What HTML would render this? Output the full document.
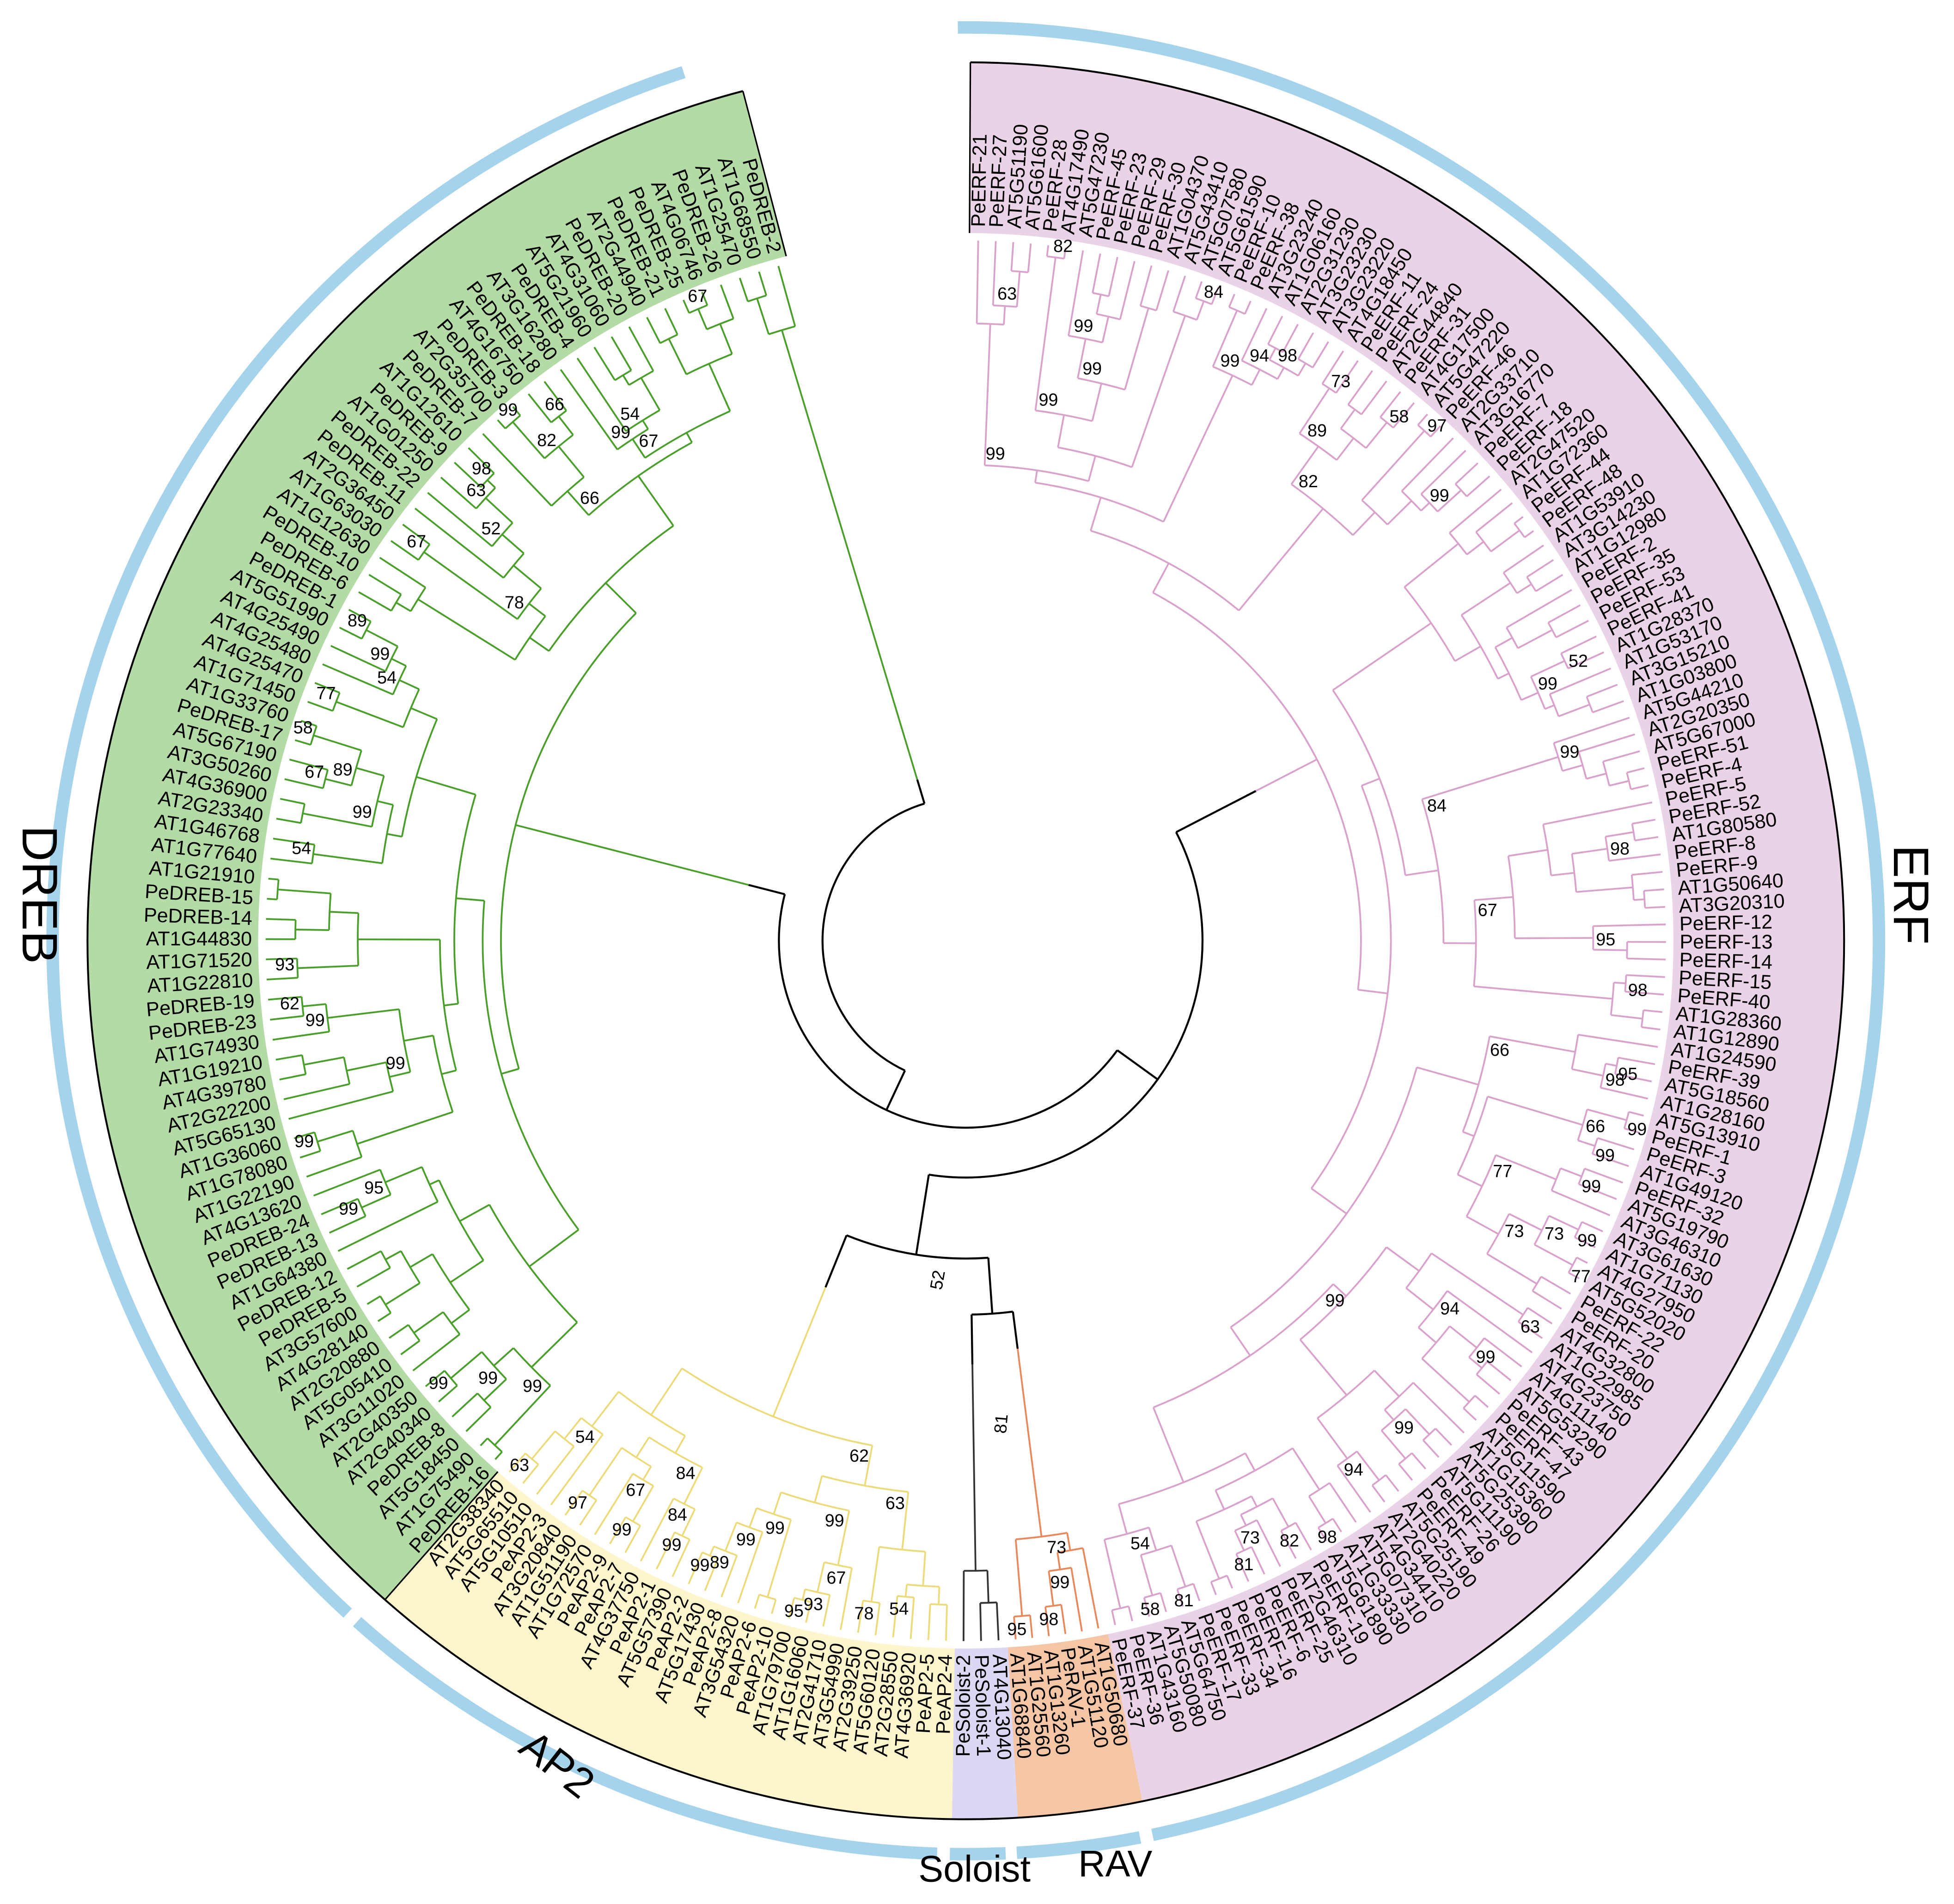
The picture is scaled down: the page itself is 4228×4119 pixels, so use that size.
<!DOCTYPE html>
<html><head><meta charset="utf-8">
<style>
html,body{margin:0;padding:0;background:#fff;}
svg{display:block;}
text{font-family:"Liberation Sans",Arial,sans-serif;}
</style></head>
<body>
<svg id="s" xmlns="http://www.w3.org/2000/svg" width="4228" height="4119" viewBox="0 0 1568 1528">
<rect width="1568" height="1528" fill="#fff"/>
<g id="bands"></g><g id="tree"></g><g id="labels"></g>
<text x="0" y="0" font-size="40" transform="translate(18,718) rotate(90)" text-anchor="middle">DREB</text>
<text x="0" y="0" font-size="40" transform="translate(1520,718) rotate(90)" text-anchor="middle">ERF</text>
<text x="0" y="0" font-size="34" transform="translate(440,1425) rotate(38)" text-anchor="middle">AP2</text>
<text x="782" y="1510" font-size="30" text-anchor="middle">Soloist</text>
<text x="895" y="1506" font-size="30" text-anchor="middle">RAV</text>
</svg>
<script>
const NS="http://www.w3.org/2000/svg",cx=775,cy=755;
function P(r,a){const t=a*Math.PI/180;return [cx+r*Math.sin(t),cy-r*Math.cos(t)];}
function el(g,tag,at,txt){const e=document.createElementNS(NS,tag);for(const k in at)e.setAttribute(k,at[k]);if(txt!==undefined)e.textContent=txt;document.getElementById(g).appendChild(e);return e;}
function arcD(r,a1,a2){if(a2<a1){const t=a1;a1=a2;a2=t;}const p=P(r,a1),q=P(r,a2);return `M${p[0].toFixed(2)},${p[1].toFixed(2)} A${r},${r} 0 ${a2-a1>180?1:0} 1 ${q[0].toFixed(2)},${q[1].toFixed(2)}`;}
function sector(r1,r2,a1,a2){const p1=P(r2,a1),p2=P(r2,a2),p3=P(r1,a2),p4=P(r1,a1);const L=a2-a1>180?1:0;return `M${p1} A${r2},${r2} 0 ${L} 1 ${p2} L${p3} A${r1},${r1} 0 ${L} 0 ${p4} Z`;}
const RI=568,RO=705;
const dstep=(345.3-221.4)/75, dsplit=221.4+72*dstep;
const clades=[
 {n:"ERF",a1:0.3,a2:168.4,fill:"#ebd3e7",col:"#d9a2cb",rootR:262},
 {n:"RAV",a1:168.4,a2:176.6,fill:"#f4c6a6",col:"#e8895c",rootR:330},
 {n:"Sol",a1:176.6,a2:180.9,fill:"#dcd8f3",col:"#333",rootR:340},
 {n:"AP2",a1:180.9,a2:221.4,fill:"#fdf5cc",col:"#ecdb7a",rootR:300},
 {n:"DREB",a1:221.4,a2:dsplit,fill:"#b4daa6",col:"#4a9e2a",rootR:180},
 {n:"DTop",a1:dsplit,a2:345.3,fill:"#b4daa6",col:"#4a9e2a",rootR:135}
];
el("bands","path",{d:sector(RI,RO,0.3,168.4),fill:"#ebd3e7"});
el("bands","path",{d:sector(RI,RO,168.4,176.6),fill:"#f4c6a6"});
el("bands","path",{d:sector(RI,RO,176.6,180.9),fill:"#dcd8f3"});
el("bands","path",{d:sector(RI,RO,180.9,221.4),fill:"#fdf5cc"});
el("bands","path",{d:sector(RI,RO,221.4,345.3),fill:"#b4daa6"});
el("bands","path",{d:arcD(RO,0.3,221.4),fill:"none",stroke:"#000","stroke-width":1.5});
el("bands","path",{d:arcD(RO,221.4,345.3),fill:"none",stroke:"#000","stroke-width":1.5});
[[0.3],[221.4],[345.3]].forEach(a=>{const p=P(RI,a[0]),q=P(RO,a[0]);el("bands","line",{x1:p[0],y1:p[1],x2:q[0],y2:q[1],stroke:"#000","stroke-width":1.2});});
[[-0.5,168.2],[169,176.8],[177.5,181],[181.8,221.8],[222.6,342]].forEach(b=>{el("bands","path",{d:arcD(733,b[0],b[1]),fill:"none",stroke:"#a6d3ec","stroke-width":10});});
const names={
ERF:"PeERF-21,PeERF-27,AT5G51190,AT5G61600,PeERF-28,AT4G17490,AT5G47230,PeERF-45,PeERF-23,PeERF-29,PeERF-30,AT1G04370,AT5G43410,AT5G07580,AT5G61590,PeERF-10,PeERF-38,AT3G23240,AT1G06160,AT2G31230,AT3G23230,AT3G23220,AT4G18450,PeERF-11,PeERF-24,AT2G44840,PeERF-31,AT4G17500,AT5G47220,PeERF-46,AT2G33710,AT3G16770,PeERF-7,PeERF-18,AT2G47520,AT1G72360,PeERF-44,PeERF-48,AT1G53910,AT3G14230,AT1G12980,PeERF-2,PeERF-35,PeERF-53,PeERF-41,AT1G28370,AT1G53170,AT3G15210,AT1G03800,AT5G44210,AT2G20350,AT5G67000,PeERF-51,PeERF-4,PeERF-5,PeERF-52,AT1G80580,PeERF-8,PeERF-9,AT1G50640,AT3G20310,PeERF-12,PeERF-13,PeERF-14,PeERF-15,PeERF-40,AT1G28360,AT1G12890,AT1G24590,PeERF-39,AT5G18560,AT1G28160,AT5G13910,PeERF-1,PeERF-3,AT1G49120,PeERF-32,AT5G19790,AT3G46310,AT3G61630,AT1G71130,AT4G27950,AT5G52020,PeERF-22,PeERF-20,AT4G32800,AT1G22985,AT4G23750,AT4G11140,AT5G53290,PeERF-43,PeERF-47,AT5G11590,AT1G15360,AT5G25390,AT5G11190,PeERF-26,PeERF-49,AT5G25190,AT2G40220,AT4G34410,AT5G07310,AT1G33330,AT5G61890,PeERF-19,AT2G46310,PeERF-25,PeERF-6,PeERF-16,PeERF-34,PeERF-33,PeERF-17,AT5G64750,AT5G50080,AT1G43160,PeERF-36,PeERF-37",
RAV:"AT1G50680,AT1G51120,PeRAV-1,AT1G13260,AT1G25560,AT1G68840",
Sol:"AT4G13040,PeSoloist-1,PeSoloist-2",
AP2:"PeAP2-4,PeAP2-5,AT4G36920,AT2G28550,AT5G60120,AT2G39250,AT3G54990,AT2G41710,AT1G16060,AT1G79700,PeAP2-10,PeAP2-6,AT3G54320,PeAP2-8,AT5G17430,PeAP2-2,AT5G57390,PeAP2-1,AT4G37750,PeAP2-7,PeAP2-9,AT1G72570,AT1G51190,AT3G20840,PeAP2-3,AT5G10510,AT5G65510,AT2G38340",
DREB:"PeDREB-16,AT1G75490,AT5G18450,PeDREB-8,AT2G40340,AT2G40350,AT3G11020,AT5G05410,AT2G20880,AT4G28140,AT3G57600,PeDREB-5,PeDREB-12,AT1G64380,PeDREB-13,PeDREB-24,AT4G13620,AT1G22190,AT1G78080,AT1G36060,AT5G65130,AT2G22200,AT4G39780,AT1G19210,AT1G74930,PeDREB-23,PeDREB-19,AT1G22810,AT1G71520,AT1G44830,PeDREB-14,PeDREB-15,AT1G21910,AT1G77640,AT1G46768,AT2G23340,AT4G36900,AT3G50260,AT5G67190,PeDREB-17,AT1G33760,AT1G71450,AT4G25470,AT4G25480,AT4G25490,AT5G51990,PeDREB-1,PeDREB-6,PeDREB-10,AT1G12630,AT1G63030,AT2G36450,PeDREB-11,PeDREB-22,AT1G01250,PeDREB-9,AT1G12610,PeDREB-7,AT2G35700,PeDREB-3,AT4G16750,PeDREB-18,AT3G16280,PeDREB-4,AT5G21960,AT4G31060,PeDREB-20,AT2G44940,PeDREB-21,PeDREB-25,AT4G06746,PeDREB-26",
DTop:"AT1G25470,AT1G68550,PeDREB-2"
};
let seed=12345;function rnd(){seed=(seed*16807)%2147483647;return seed/2147483647;}
const boots=[99,99,99,99,82,63,77,95,58,99,89,73,94,67,54,98,99,81,62,99,97,52,99,66,78,99,93,84];
const roots={};
clades.forEach(c=>{
 const list=names[c.n].split(",");const n=list.length;const step=(c.a2-c.a1)/n;
 const ang=list.map((_,i)=>c.a1+step*(i+0.5));
 list.forEach((nm,i)=>{const a=ang[i];const p=P(RI+5,a);
  let rot,anc;if(a<180){rot=a-90;anc="start";}else{rot=a+90;anc="end";}
  el("labels","text",{x:0,y:0,"font-size":16,"text-anchor":anc,"dominant-baseline":"central",transform:`translate(${p[0].toFixed(2)},${p[1].toFixed(2)}) rotate(${rot.toFixed(2)})`},nm);});
 const minR=c.rootR+12;
 function build(lo,hi){
  if(lo===hi)return{a:ang[lo],r:RI-6};
  let mid=lo+Math.max(1,Math.floor((hi-lo+1)*(0.25+0.5*rnd())));if(mid>hi)mid=hi;
  const c1=build(lo,mid-1),c2=build(mid,hi);
  let r=Math.min(c1.r,c2.r)-(8+rnd()*26);if(r<minR)r=minR+rnd()*6;
  [c1,c2].forEach(ch=>{const p=P(ch.r,ch.a),q=P(r,ch.a);el("tree","line",{x1:p[0],y1:p[1],x2:q[0],y2:q[1],stroke:c.col,"stroke-width":1.4});});
  el("tree","path",{d:arcD(r,c1.a,c2.a),fill:"none",stroke:c.col,"stroke-width":1.4});
  const a=(c1.a+c2.a)/2;
  if(rnd()<0.45&&hi-lo<40){const t=P(r+10,Math.min(c1.a,c2.a)+1.2);el("labels","text",{x:t[0],y:t[1],"font-size":14,"text-anchor":"middle","dominant-baseline":"central"},String(boots[Math.floor(rnd()*boots.length)]));}
  return{a,r};
 }
 const root=build(0,n-1);
 const p=P(root.r,root.a),q=P(c.rootR,root.a);
 el("tree","line",{x1:p[0],y1:p[1],x2:q[0],y2:q[1],stroke:c.col,"stroke-width":1.4});
 roots[c.n]={a:root.a,r:c.rootR};
});
function join(A,B,r){[A,B].forEach(ch=>{const p=P(ch.r,ch.a),q=P(r,ch.a);el("tree","line",{x1:p[0],y1:p[1],x2:q[0],y2:q[1],stroke:"#000","stroke-width":1.6});});
 el("tree","path",{d:arcD(r,A.a,B.a),fill:"none",stroke:"#000","stroke-width":1.6});return{a:(A.a+B.a)/2,r};}
const n1=join(roots.Sol,roots.RAV,300);
const n2=join(roots.AP2,n1,255);
const n3=join(roots.ERF,n2,190);
const n4=join(n3,roots.DREB,150);
join(n4,roots.DTop,115);
el("labels","text",{x:757,y:1028,"font-size":14,"text-anchor":"middle",transform:"rotate(-80 757 1028)"},"52");
el("labels","text",{x:808,y:1143,"font-size":14,"text-anchor":"middle",transform:"rotate(-85 808 1143)"},"81");
</script>
</body></html>
